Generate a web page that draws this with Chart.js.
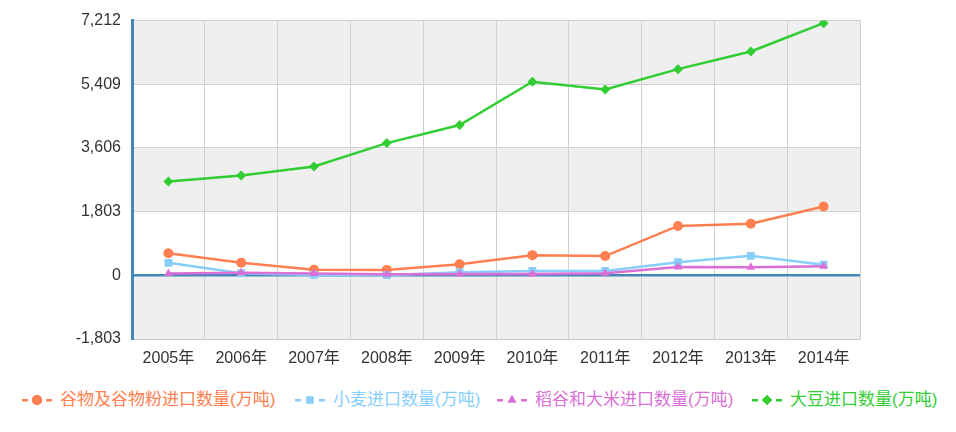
<!DOCTYPE html>
<html>
<head>
<meta charset="utf-8">
<script src="https://cdn.jsdelivr.net/npm/chart.js@4"></script>
<style>
  body { margin: 0; background: #fff; font-family: 'Liberation Sans', 'Noto Sans CJK SC', sans-serif; }
  #wrap { position: relative; width: 956px; height: 380px; }
  #legend { position: relative; height: 52px; }
  .item { position: absolute; top: 10px; font-size: 17px; line-height: 20px; white-space: nowrap; }
  .item canvas { vertical-align: top; margin-right: 8px; }
</style>
</head>
<body>
<div id="wrap"><canvas id="chart"></canvas></div>
<div id="legend"></div>
<script>
var years = ['2005年','2006年','2007年','2008年','2009年','2010年','2011年','2012年','2013年','2014年'];
var cereals = [627, 358, 155, 154, 315, 571, 545, 1398, 1458, 1951];
var wheat = [354, 61, 10, 4, 90, 123, 125, 370, 553, 300];
var rice = [52, 73, 49, 33, 36, 39, 60, 237, 227, 258];
var soybean = [2659, 2827, 3082, 3744, 4255, 5480, 5264, 5838, 6338, 7140];
var yTicks = [-1803, 0, 1803, 3606, 5409, 7212];

var names = ['谷物及谷物粉进口数量(万吨)', '小麦进口数量(万吨)', '稻谷和大米进口数量(万吨)', '大豆进口数量(万吨)'];
var colors = ['#ff7f50', '#87cefa', '#da70d6', '#32cd32'];
var shapes = ['circle', 'rect', 'triangle', 'rectRot'];
var series = [cereals, wheat, rice, soybean];

// alternating bands behind the plot
var bands = {
    id: 'bands',
    beforeDraw: function(chart) {
        var c = chart.ctx, a = chart.chartArea, y = chart.scales.y;
        for (var i = 0; i < yTicks.length - 1; i++) {
            var top = y.getPixelForValue(yTicks[i + 1]);
            var bot = y.getPixelForValue(yTicks[i]);
            c.fillStyle = (i % 2 == 0) ? '#efefef' : '#ffffff';
            c.fillRect(a.left, top, a.right - a.left, bot - top);
        }
    }
};

var datasets = [];
for (let i = 0; i < series.length; i++) {
    datasets.push({
        label: names[i],
        data: series[i],
        borderColor: colors[i],
        backgroundColor: colors[i],
        pointStyle: shapes[i],
        pointRadius: i == 1 ? 5.5 : 5,
        pointBorderWidth: 0,
        borderWidth: 2.5,
        tension: 0,
        order: 4 - i
    });
}

var font = { family: "'Liberation Sans', 'Noto Sans CJK SC', sans-serif", size: 16 };

var chart = new Chart(document.getElementById('chart'), {
    type: 'line',
    data: { labels: years, datasets: datasets },
    plugins: [bands],
    options: {
        responsive: true,
        maintainAspectRatio: false,
        animation: false,
        layout: { padding: { top: 20, right: 96, left: 0, bottom: 0 } },
        plugins: { legend: { display: false }, tooltip: { enabled: false } },
        scales: {
            x: {
                offset: true,
                grid: { color: '#d0d0d0', drawTicks: false, offset: true },
                border: { color: '#cccccc', width: 1 },
                ticks: { color: '#333', font: font, padding: 10, maxRotation: 0 },
                afterFit: function(s) { s.height = 41; }
            },
            y: {
                min: -1803,
                max: 7212,
                afterBuildTicks: function(s) { s.ticks = yTicks.map(function(v) { return { value: v }; }); },
                grid: {
                    drawTicks: false,
                    color: function(ctx) { return ctx.tick && ctx.tick.value === 0 ? '#4488bb' : '#d0d0d0'; },
                    lineWidth: function(ctx) { return ctx.tick && ctx.tick.value === 0 ? 2.5 : 1; }
                },
                border: { color: '#4488bb', width: 3 },
                ticks: {
                    color: '#333', font: font, padding: 11,
                    callback: function(v) { return Number(v).toLocaleString('en-US'); }
                },
                afterFit: function(s) { s.width = 132; }
            }
        }
    }
});

// legend below the chart, icons drawn as dash - marker - dash
var legendX = [22, 295, 497, 752];
var lg = document.getElementById('legend');
for (let i = 0; i < names.length; i++) {
    var d = document.createElement('div');
    d.className = 'item';
    d.style.left = legendX[i] + 'px';
    d.style.color = colors[i];
    var cv = document.createElement('canvas');
    cv.width = 30; cv.height = 20;
    var g = cv.getContext('2d');
    g.fillStyle = colors[i];
    g.fillRect(0, 9, 6, 2.5);
    g.fillRect(24, 9, 6, 2.5);
    Chart.helpers.drawPoint(g, { pointStyle: shapes[i], radius: 5, borderWidth: 0 }, 15, 10);
    g.fill();
    d.appendChild(cv);
    d.appendChild(document.createTextNode(names[i]));
    lg.appendChild(d);
}
</script>
</body>
</html>
